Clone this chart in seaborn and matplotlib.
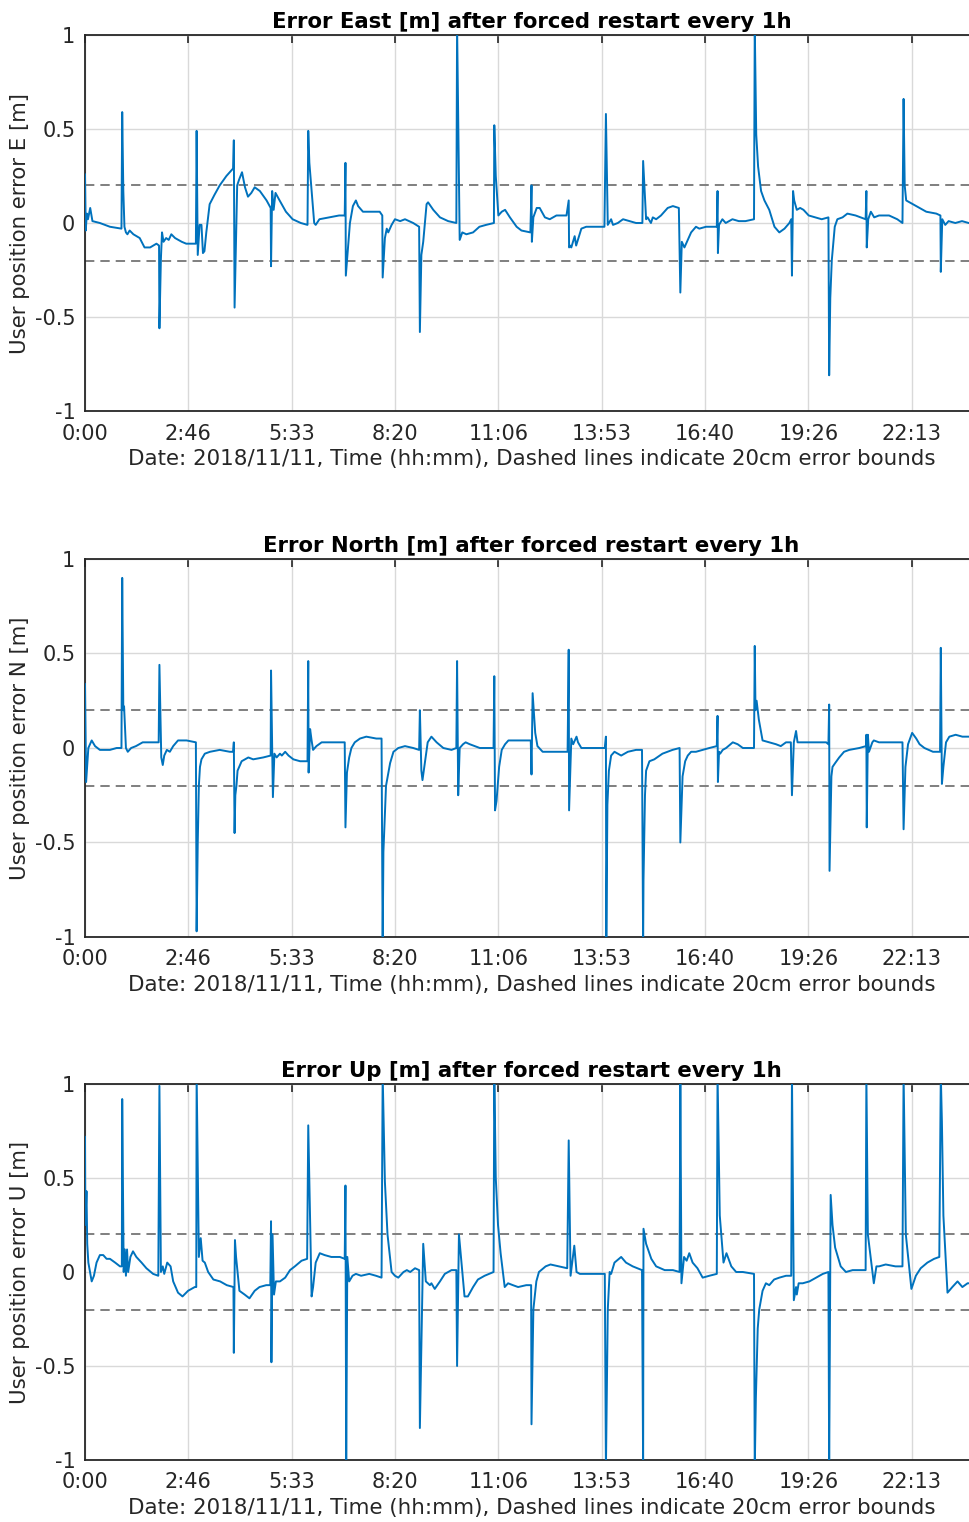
import numpy as np
import pandas as pd
import matplotlib
matplotlib.use("Agg")
import matplotlib.pyplot as plt
import seaborn as sns

# ---------------- data (time in hours, error in metres) ----------------
east_t = [0.0, 0.02, 0.05, 0.08, 0.14, 0.2, 0.4, 0.67, 0.98,
          1.0, 1.03, 1.06, 1.1, 1.14, 1.2, 1.3, 1.47, 1.6, 1.75, 1.92, 1.99,
          2.0, 2.04, 2.07, 2.11, 2.18, 2.25, 2.32, 2.42, 2.6, 2.72, 2.98,
          3.0, 3.03, 3.08, 3.13, 3.17, 3.21, 3.26, 3.35, 3.48, 3.62, 3.8, 3.98,
          4.0, 4.02, 4.09, 4.14, 4.22, 4.3, 4.38, 4.47, 4.56, 4.7, 4.88, 4.99,
          5.0, 5.03, 5.07, 5.12, 5.23, 5.4, 5.58, 5.8, 5.98,
          6.0, 6.03, 6.16, 6.2, 6.3, 6.56, 6.83, 6.98,
          7.0, 7.01, 7.07, 7.12, 7.2, 7.28, 7.34, 7.47, 7.65, 7.92, 7.99,
          8.0, 8.06, 8.11, 8.15, 8.24, 8.33, 8.47, 8.6, 8.82, 8.98,
          9.0, 9.04, 9.09, 9.18, 9.22, 9.36, 9.54, 9.76, 9.98,
          10.0, 10.07, 10.14, 10.25, 10.43, 10.6, 10.78, 10.99,
          11.0, 11.04, 11.11, 11.2, 11.29, 11.42, 11.6, 11.73, 11.97,
          12.0, 12.01, 12.05, 12.14, 12.22, 12.36, 12.49, 12.67, 12.94,
          13.0, 13.01, 13.04, 13.07, 13.16, 13.2, 13.34, 13.47, 13.74, 13.96,
          14.0, 14.05, 14.14, 14.19, 14.32, 14.46, 14.63, 14.81, 14.98,
          15.0, 15.08, 15.12, 15.21, 15.26, 15.35, 15.48, 15.66, 15.8, 15.96,
          16.0, 16.04, 16.11, 16.2, 16.29, 16.42, 16.51, 16.69, 16.87, 16.98,
          17.0, 17.01, 17.04, 17.13, 17.22, 17.4, 17.57, 17.75, 17.98,
          18.0, 18.04, 18.09, 18.17, 18.26, 18.39, 18.53, 18.66, 18.8, 18.93, 18.98,
          19.0, 19.03, 19.06, 19.13, 19.22, 19.31, 19.45, 19.62, 19.8, 19.98,
          20.0, 20.03, 20.07, 20.15, 20.22, 20.36, 20.49, 20.71, 20.98,
          21.0, 21.01, 21.05, 21.12, 21.21, 21.34, 21.61, 21.83, 21.97,
          22.0, 22.03, 22.07, 22.16, 22.34, 22.61, 22.88, 22.99,
          23.0, 23.04, 23.12, 23.21, 23.39, 23.57, 23.75, 24.0]
east_v = [0.26, -0.04, 0.05, 0.02, 0.08, 0.01, 0.0, -0.02, -0.03,
          0.59, 0.17, -0.02, -0.05, -0.06, -0.04, -0.06, -0.08, -0.13, -0.13, -0.11, -0.12,
          -0.56, -0.19, -0.05, -0.10, -0.08, -0.09, -0.06, -0.08, -0.10, -0.11, -0.11,
          0.49, -0.17, -0.01, -0.01, -0.16, -0.15, -0.05, 0.10, 0.15, 0.20, 0.25, 0.29,
          0.44, -0.45, 0.20, 0.23, 0.27, 0.19, 0.14, 0.16, 0.19, 0.17, 0.12, 0.08,
          -0.23, 0.17, 0.07, 0.16, 0.12, 0.06, 0.02, 0.0, -0.01,
          0.49, 0.32, 0.0, -0.01, 0.02, 0.03, 0.04, 0.04,
          0.32, -0.28, -0.13, 0.0, 0.09, 0.12, 0.09, 0.06, 0.06, 0.06, 0.04,
          -0.29, -0.08, -0.03, -0.05, -0.01, 0.02, 0.01, 0.02, 0.0, -0.02,
          -0.58, -0.17, -0.10, 0.10, 0.11, 0.07, 0.03, 0.01, 0.0,
          1.05, -0.09, -0.05, -0.06, -0.05, -0.02, -0.01, 0.0,
          0.52, 0.25, 0.04, 0.06, 0.07, 0.03, -0.02, -0.04, -0.05,
          0.20, -0.10, 0.03, 0.08, 0.08, 0.03, 0.02, 0.04, 0.04,
          0.12, -0.13, -0.12, -0.13, -0.07, -0.12, -0.03, -0.02, -0.02, -0.02,
          0.58, -0.01, 0.02, -0.01, 0.0, 0.02, 0.01, 0.0, 0.0,
          0.33, 0.02, 0.03, 0.0, 0.03, 0.02, 0.04, 0.08, 0.09, 0.08,
          -0.37, -0.10, -0.13, -0.09, -0.05, -0.02, -0.03, -0.02, -0.02, -0.02,
          0.17, -0.16, -0.01, 0.02, 0.0, 0.02, 0.01, 0.01, 0.02,
          1.05, 0.47, 0.30, 0.17, 0.12, 0.07, -0.02, -0.05, -0.03, 0.0, 0.02,
          -0.28, 0.17, 0.12, 0.07, 0.08, 0.07, 0.04, 0.03, 0.02, 0.03,
          -0.81, -0.40, -0.20, -0.02, 0.02, 0.03, 0.05, 0.04, 0.02,
          0.17, -0.13, 0.02, 0.06, 0.03, 0.04, 0.04, 0.02, 0.0,
          0.66, 0.20, 0.12, 0.11, 0.09, 0.06, 0.05, 0.04,
          -0.26, 0.02, -0.01, 0.01, 0.0, 0.01, 0.0, 0.0]

north_t = [0.0, 0.03, 0.09, 0.18, 0.27, 0.4, 0.67, 0.85, 0.98,
           1.0, 1.03, 1.05, 1.1, 1.15, 1.24, 1.37, 1.55, 1.82, 1.98,
           2.0, 2.05, 2.09, 2.13, 2.2, 2.28, 2.37, 2.5, 2.73, 2.98,
           3.0, 3.03, 3.06, 3.09, 3.13, 3.22, 3.36, 3.62, 3.89, 3.98,
           4.0, 4.02, 4.04, 4.07, 4.1, 4.21, 4.39, 4.52, 4.79, 4.99,
           5.0, 5.05, 5.09, 5.15, 5.24, 5.29, 5.38, 5.47, 5.6, 5.78, 5.98,
           6.0, 6.01, 6.05, 6.09, 6.13, 6.22, 6.36, 6.67, 6.98,
           7.0, 7.04, 7.1, 7.16, 7.25, 7.39, 7.56, 7.83, 7.97,
           8.0, 8.02, 8.09, 8.2, 8.29, 8.42, 8.6, 8.82, 8.98,
           9.0, 9.04, 9.07, 9.12, 9.21, 9.31, 9.45, 9.63, 9.85, 9.98,
           10.0, 10.03, 10.07, 10.16, 10.23, 10.34, 10.61, 10.98,
           11.0, 11.02, 11.06, 11.13, 11.2, 11.29, 11.38, 11.6, 11.98,
           12.0, 12.03, 12.06, 12.1, 12.16, 12.3, 12.6, 12.97,
           13.0, 13.01, 13.03, 13.07, 13.12, 13.21, 13.25, 13.34, 13.66, 13.97,
           14.0, 14.01, 14.04, 14.08, 14.14, 14.23, 14.41, 14.59, 14.81, 14.97,
           15.0, 15.01, 15.05, 15.08, 15.17, 15.3, 15.52, 15.79, 15.98,
           16.0, 16.06, 16.13, 16.2, 16.29, 16.42, 16.6, 16.78, 16.98,
           17.0, 17.01, 17.04, 17.07, 17.14, 17.23, 17.41, 17.54, 17.68, 17.98,
           18.0, 18.02, 18.05, 18.11, 18.21, 18.39, 18.57, 18.7, 18.84, 18.97,
           19.0, 19.05, 19.11, 19.15, 19.29, 19.56, 19.92, 19.98,
           20.0, 20.01, 20.06, 20.09, 20.16, 20.27, 20.4, 20.54, 20.81, 20.99,
           21.0, 21.01, 21.04, 21.07, 21.16, 21.2, 21.34, 21.7, 21.97,
           22.0, 22.05, 22.12, 22.23, 22.34, 22.43, 22.56, 22.79, 22.98,
           23.0, 23.03, 23.07, 23.14, 23.23, 23.4, 23.58, 23.75, 24.0]
north_v = [0.34, -0.18, 0.0, 0.04, 0.01, -0.01, -0.01, 0.0, 0.0,
           0.90, 0.20, 0.22, 0.0, -0.02, 0.0, 0.01, 0.03, 0.03, 0.03,
           0.44, -0.05, -0.09, -0.04, -0.01, -0.02, 0.01, 0.04, 0.04, 0.03,
           -0.97, -0.5, -0.2, -0.1, -0.06, -0.03, -0.02, -0.01, -0.02, -0.02,
           0.03, -0.45, -0.25, -0.2, -0.12, -0.07, -0.05, -0.06, -0.05, -0.04,
           0.41, -0.26, -0.03, -0.05, -0.03, -0.04, -0.02, -0.04, -0.06, -0.07, -0.07,
           0.46, -0.13, 0.10, 0.04, -0.01, 0.01, 0.03, 0.03, 0.03,
           -0.42, -0.13, -0.05, 0.0, 0.03, 0.05, 0.06, 0.05, 0.05,
           -1.05, -0.55, -0.2, -0.08, -0.02, 0.0, 0.01, 0.0, -0.01,
           0.20, -0.12, -0.17, -0.10, 0.03, 0.06, 0.03, 0.0, -0.01, 0.0,
           0.46, -0.25, 0.0, 0.02, 0.03, 0.02, 0.0, 0.0,
           0.38, -0.33, -0.28, -0.10, -0.01, 0.02, 0.04, 0.04, 0.04,
           -0.14, 0.29, 0.20, 0.08, 0.01, -0.02, -0.02, -0.02,
           0.52, -0.33, -0.2, 0.05, 0.02, 0.06, 0.03, 0.0, 0.0, 0.0,
           0.06, -1.05, -0.3, -0.12, -0.04, -0.02, -0.04, -0.02, -0.01, -0.01,
           -1.05, -0.7, -0.25, -0.12, -0.07, -0.06, -0.03, -0.01, 0.0,
           -0.5, -0.15, -0.07, -0.04, -0.02, -0.02, -0.01, 0.0, 0.01,
           0.17, -0.18, -0.02, -0.03, -0.01, 0.0, 0.03, 0.02, 0.0, 0.0,
           0.54, 0.20, 0.25, 0.15, 0.04, 0.03, 0.02, 0.01, 0.03, 0.03,
           -0.25, 0.03, 0.09, 0.03, 0.03, 0.03, 0.03, 0.02,
           0.23, -0.65, -0.15, -0.10, -0.08, -0.05, -0.02, -0.01, 0.0, 0.01,
           0.07, -0.42, 0.07, -0.02, 0.03, 0.04, 0.03, 0.03, 0.03,
           -0.43, -0.10, 0.02, 0.08, 0.05, 0.02, 0.0, -0.02, -0.02,
           0.53, -0.19, -0.10, 0.03, 0.06, 0.07, 0.06, 0.06, 0.06]

up_t = [0.0, 0.01, 0.04, 0.06, 0.09, 0.18, 0.24, 0.31, 0.4, 0.49, 0.58, 0.67, 0.81, 0.94, 0.99,
        1.0, 1.04, 1.07, 1.1, 1.13, 1.16, 1.22, 1.29, 1.38, 1.52, 1.65, 1.83, 1.97,
        2.0, 2.04, 2.09, 2.13, 2.21, 2.3, 2.37, 2.5, 2.62, 2.77, 2.95, 2.99,
        3.0, 3.06, 3.11, 3.16, 3.22, 3.31, 3.45, 3.63, 3.81, 3.99,
        4.0, 4.03, 4.06, 4.15, 4.29, 4.42, 4.56, 4.69, 4.87, 4.98,
        5.0, 5.01, 5.04, 5.08, 5.13, 5.24, 5.38, 5.51, 5.64, 5.82, 5.97,
        6.0, 6.09, 6.13, 6.2, 6.31, 6.44, 6.62, 6.85, 6.98,
        7.0, 7.02, 7.05, 7.1, 7.19, 7.28, 7.42, 7.64, 7.82, 7.97,
        8.0, 8.06, 8.13, 8.24, 8.33, 8.42, 8.56, 8.65, 8.74, 8.87, 8.98,
        9.0, 9.09, 9.16, 9.27, 9.31, 9.4, 9.54, 9.67, 9.85, 9.98,
        10.0, 10.05, 10.2, 10.29, 10.43, 10.56, 10.74, 10.98,
        11.0, 11.04, 11.1, 11.17, 11.28, 11.37, 11.5, 11.64, 11.86, 11.99,
        12.0, 12.05, 12.13, 12.2, 12.38, 12.51, 12.74, 12.96,
        13.0, 13.05, 13.15, 13.21, 13.3, 13.66, 13.97,
        14.0, 14.05, 14.1, 14.14, 14.23, 14.41, 14.54, 14.72, 14.97,
        15.0, 15.01, 15.08, 15.22, 15.35, 15.58, 15.8, 15.98,
        16.0, 16.03, 16.1, 16.17, 16.24, 16.33, 16.46, 16.6, 16.78, 16.98,
        17.0, 17.06, 17.1, 17.16, 17.24, 17.37, 17.5, 17.68, 17.98,
        18.0, 18.03, 18.08, 18.12, 18.21, 18.3, 18.39, 18.52, 18.66, 18.84, 18.98,
        19.0, 19.05, 19.11, 19.13, 19.18, 19.29, 19.47, 19.65, 19.83, 19.98,
        20.0, 20.04, 20.09, 20.16, 20.22, 20.31, 20.45, 20.63, 20.98,
        21.0, 21.04, 21.2, 21.27, 21.34, 21.52, 21.78, 21.97,
        22.0, 22.06, 22.21, 22.33, 22.46, 22.64, 22.82, 22.96,
        23.0, 23.03, 23.07, 23.18, 23.31, 23.45, 23.58, 23.72, 24.0]
up_v = [0.72, 0.25, 0.43, 0.15, 0.05, -0.05, -0.02, 0.05, 0.09, 0.09, 0.07, 0.07, 0.05, 0.03, 0.03,
        0.92, 0.0, 0.12, -0.02, 0.12, 0.0, 0.08, 0.11, 0.08, 0.05, 0.02, -0.01, -0.02,
        0.99, 0.0, 0.03, -0.01, 0.05, 0.03, -0.05, -0.11, -0.13, -0.10, -0.08, -0.08,
        1.05, 0.08, 0.18, 0.06, 0.05, 0.0, -0.04, -0.05, -0.07, -0.08,
        -0.43, 0.17, 0.08, -0.10, -0.12, -0.14, -0.10, -0.08, -0.07, -0.07,
        0.27, -0.48, 0.20, -0.12, -0.05, -0.05, -0.03, 0.01, 0.03, 0.06, 0.07,
        0.78, -0.13, -0.08, 0.05, 0.10, 0.09, 0.08, 0.08, 0.07,
        0.46, -1.05, 0.08, -0.05, -0.02, -0.01, -0.02, -0.01, -0.02, -0.03,
        1.05, 0.48, 0.20, 0.0, -0.02, -0.03, 0.0, 0.01, 0.0, 0.02, 0.01,
        -0.83, 0.15, -0.05, -0.07, -0.06, -0.09, -0.05, -0.01, 0.01, 0.01,
        -0.50, 0.20, -0.13, -0.13, -0.08, -0.04, -0.02, 0.0,
        1.05, 0.50, 0.25, 0.10, -0.08, -0.06, -0.07, -0.08, -0.07, -0.07,
        -0.81, -0.20, -0.05, 0.0, 0.03, 0.04, 0.03, 0.02,
        0.70, -0.02, 0.14, 0.0, -0.01, -0.01, -0.01,
        -1.05, -0.20, 0.0, -0.01, 0.05, 0.08, 0.05, 0.03, 0.01,
        -1.05, 0.23, 0.15, 0.07, 0.03, 0.01, 0.01, 0.0,
        1.05, -0.06, 0.08, 0.06, 0.10, 0.05, 0.02, -0.03, -0.02, -0.01,
        1.05, 0.30, 0.20, 0.05, 0.10, 0.03, 0.0, 0.0, -0.01,
        -1.05, -0.67, -0.30, -0.20, -0.10, -0.06, -0.07, -0.04, -0.03, -0.02, -0.02,
        1.05, -0.15, -0.08, -0.12, -0.06, -0.06, -0.05, -0.03, -0.01, 0.0,
        -1.05, 0.41, 0.25, 0.13, 0.09, 0.03, 0.0, 0.01, 0.01,
        1.05, 0.20, -0.06, 0.03, 0.03, 0.04, 0.03, 0.03,
        1.05, 0.20, -0.09, -0.02, 0.02, 0.05, 0.07, 0.08,
        1.05, 0.80, 0.30, -0.11, -0.08, -0.05, -0.08, -0.06, -0.06]

tick_seconds = [0, 10000, 20000, 30000, 40000, 50000, 60000, 70000, 80000]
tick_labels = ["0:00", "2:46", "5:33", "8:20", "11:06", "13:53", "16:40", "19:26", "22:13"]
y_ticks = [-1, -0.5, 0, 0.5, 1]
y_tick_labels = ["-1", "-0.5", "0", "0.5", "1"]
bound = 0.2

titles = ["Error East [m] after forced restart every 1h",
          "Error North [m] after forced restart every 1h",
          "Error Up [m] after forced restart every 1h"]
ylabels = ["User position error E [m]", "User position error N [m]", "User position error U [m]"]
xlabel = "Date: 2018/11/11, Time (hh:mm), Dashed lines indicate 20cm error bounds"

series = [(east_t, east_v), (north_t, north_v), (up_t, up_v)]

# ---------------- figure ----------------
sns.set_style("white")
plt.rcParams['font.family'] = ['DejaVu Sans']

W, H = 969, 1522
fig = plt.figure(figsize=(W / 100, H / 100), dpi=100)

frame_col = "#262626"
line_col = "#0072BD"

# axes boxes in pixel coordinates: (left, right, top, bottom)
boxes = [(85, 978, 35, 411), (85, 978, 559, 937), (85, 978, 1084, 1460)]

for i, ((t, v), (l, r, tp, bt)) in enumerate(zip(series, boxes)):
    ax = fig.add_axes([l / W, 1 - bt / H, (r - l) / W, (bt - tp) / H])
    df = pd.DataFrame({"sec": np.array(t) * 3600.0, "err": v})
    ax.axhline(bound, color="#7f7f7f", lw=1.4, ls=(0, (4.8, 3.1)), zorder=2)
    ax.axhline(-bound, color="#7f7f7f", lw=1.4, ls=(0, (4.8, 3.1)), zorder=2)
    sns.lineplot(data=df, x="sec", y="err", ax=ax, color=line_col, lw=1.4,
                 estimator=None, sort=False, zorder=3)
    ax.set_xlim(0, 86400)
    ax.set_ylim(-1, 1)
    ax.set_xticks(tick_seconds)
    ax.set_xticklabels(tick_labels)
    ax.set_yticks(y_ticks)
    ax.set_yticklabels(y_tick_labels)
    ax.grid(True, color="#d9d9d9", lw=1.0, zorder=0)
    ax.set_axisbelow(True)
    ax.tick_params(direction="in", length=6, width=1.2, colors=frame_col,
                   labelsize=15, top=True, right=True)
    ax.tick_params(axis="x", pad=9)
    ax.tick_params(axis="y", pad=7)
    for s in ax.spines.values():
        s.set_color(frame_col)
        s.set_linewidth(1.3)
    ax.set_title(titles[i], fontsize=15.3, fontweight="bold", color="black", pad=5)
    ax.set_xlabel(xlabel, fontsize=15.4, color=frame_col, labelpad=4)
    ax.set_ylabel(ylabels[i], fontsize=15.3, color=frame_col, labelpad=3)
    if ax.get_legend() is not None:
        ax.get_legend().remove()

fig.savefig("out.png", dpi=100)
